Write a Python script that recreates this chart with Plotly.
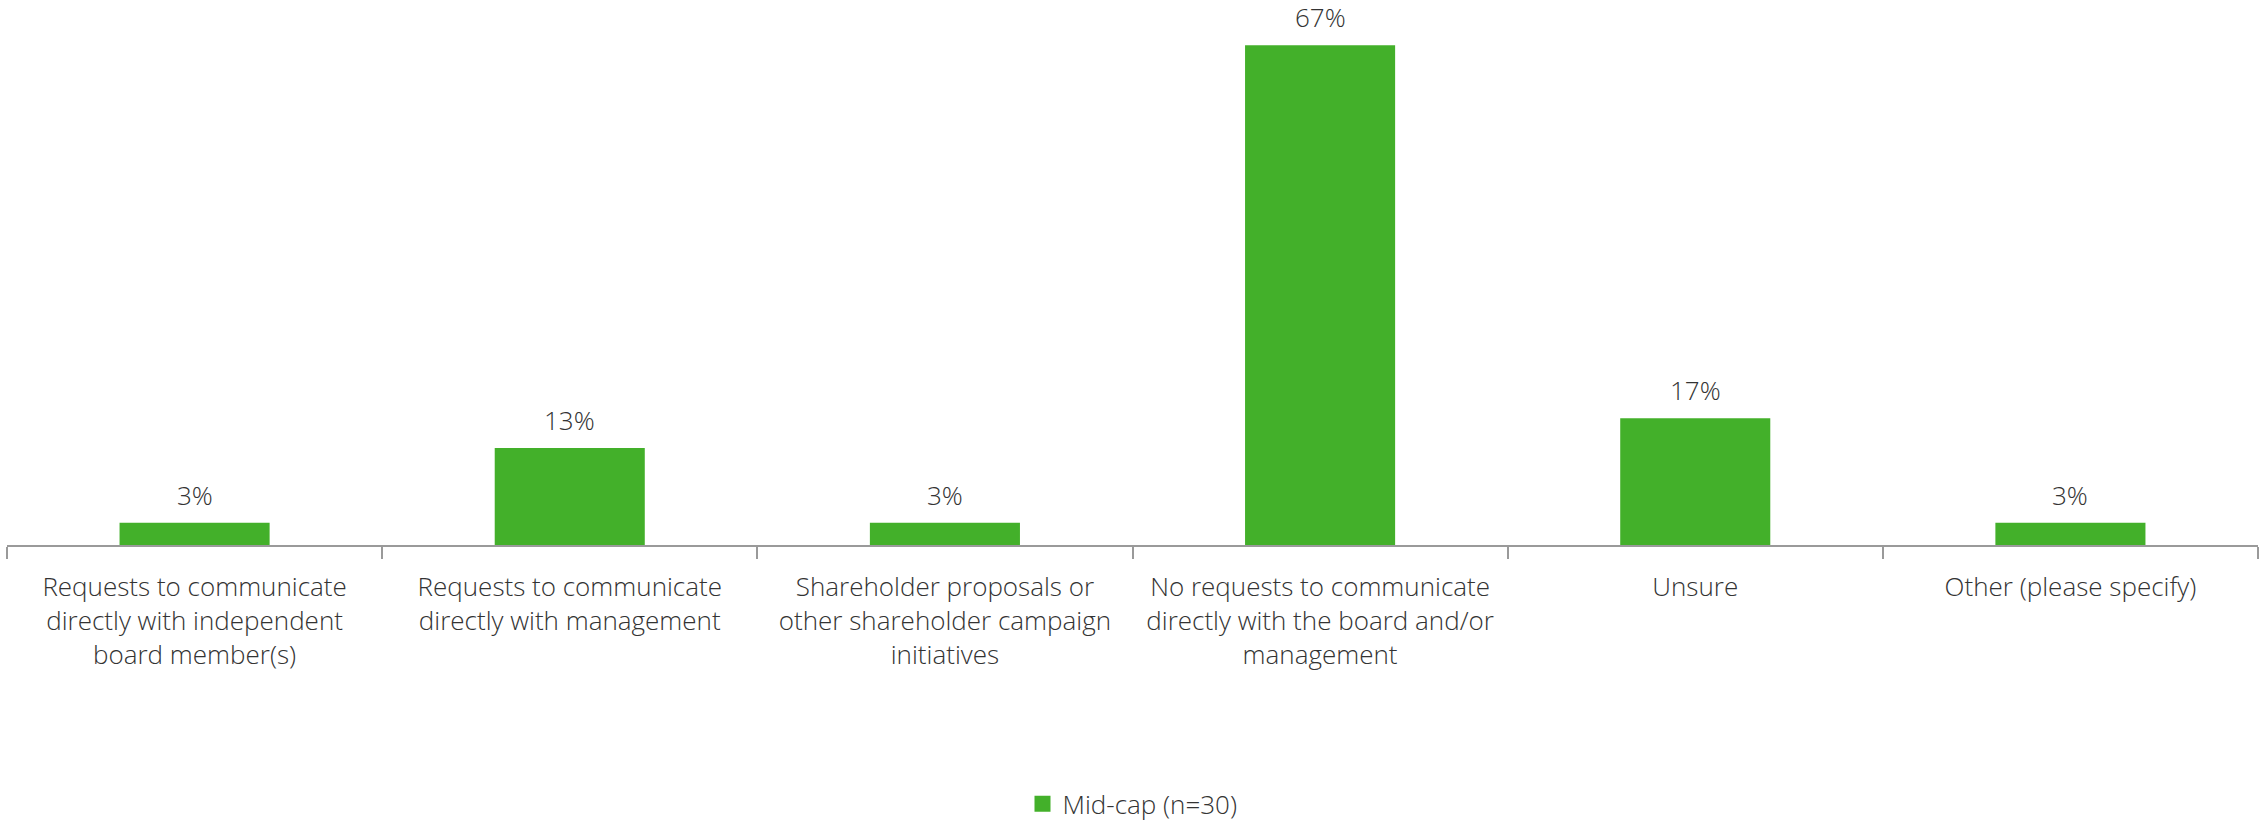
import plotly.graph_objects as go

categories = [
    "Requests to communicate<br>directly with independent<br>board member(s)",
    "Requests to communicate<br>directly with management",
    "Shareholder proposals or<br>other shareholder campaign<br>initiatives",
    "No requests to communicate<br>directly with the board and/or<br>management",
    "Unsure",
    "Other (please specify)",
]
mid_cap = [3, 13, 3, 67, 17, 3]
series_name = "Mid-cap (n=30)"

GREEN = "#43B02A"
TEXT = "#333333"
AXIS = "#9a9a9a"
FONT = "Open Sans"
SIZE = 26

fig = go.Figure()
fig.add_trace(go.Bar(
    x=categories,
    y=mid_cap,
    marker=dict(color=GREEN, line=dict(width=0)),
    width=0.4,
    showlegend=False,
    hoverinfo="x+y",
))
# legend swatch
fig.add_trace(go.Scatter(
    x=[None], y=[None], mode="markers", name=series_name,
    marker=dict(symbol="square", size=16, color=GREEN),
))

for c, v in zip(categories, mid_cap):
    fig.add_annotation(
        x=c, y=v, text=f"{v}%", showarrow=False,
        yanchor="bottom", yshift=9, borderpad=0,
        font=dict(family=FONT, size=SIZE, color=TEXT, weight=300),
    )

fig.update_layout(
    width=2262, height=822,
    margin=dict(l=7, r=4, t=23, b=277),
    paper_bgcolor="white", plot_bgcolor="white",
    font=dict(family=FONT, size=SIZE, color=TEXT, weight=300),
    showlegend=True,
    legend=dict(orientation="h", x=0.5, xanchor="center",
                yref="container", y=0.022, yanchor="middle",
                font=dict(family=FONT, size=SIZE, color=TEXT, weight=300),
                itemsizing="trace"),
    xaxis=dict(
        automargin=False,
        showline=True, linecolor=AXIS, linewidth=2,
        ticks="outside", tickson="boundaries", ticklen=12, tickcolor=AXIS, tickwidth=2,
        ticklabelstandoff=18,
        showgrid=False, zeroline=False,
        tickfont=dict(family=FONT, size=SIZE, color=TEXT, weight=300),
    ),
    yaxis=dict(range=[0, 70], visible=False, showgrid=False, zeroline=False),
)

fig.write_html("out.html")
